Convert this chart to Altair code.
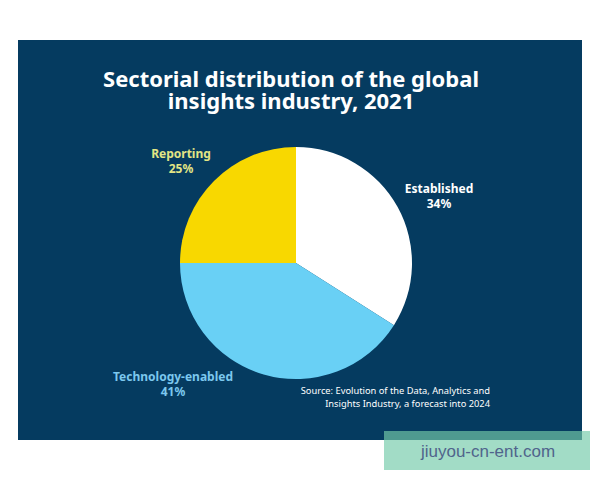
import altair as alt
import pandas as pd

# ---- data ----
categories = ["Established", "Technology-enabled", "Reporting"]
shares = [34, 41, 25]
slice_colors = ["#ffffff", "#69d0f5", "#f8d800"]
label_colors = ["#ffffff", "#7cc8ee", "#e2e585"]
title_lines = ["Sectorial distribution of the global", "insights industry, 2021"]
source_lines = ["Source: Evolution of the Data, Analytics and",
                "Insights Industry, a forecast into 2024"]
watermark = "jiuyou-cn-ent.com"

NAVY = "#053b60"
FONT = "Noto Sans"

df = pd.DataFrame({
    "category": categories,
    "share": shares,
    "idx": list(range(len(categories))),
    "label": [f"{c}\n{s}%" for c, s in zip(categories, shares)],
})

one = alt.Data(values=[{"a": 1}])

bg = alt.Chart(one).mark_rect(color=NAVY).encode(
    x=alt.value(10), x2=alt.value(574), y=alt.value(32), y2=alt.value(432)
)

pie = alt.Chart(df).mark_arc(outerRadius=116, stroke=None).encode(
    theta=alt.Theta("share:Q", stack=True),
    order=alt.Order("idx:O"),
    color=alt.Color("category:N", scale=alt.Scale(domain=categories, range=slice_colors), legend=None),
    x=alt.value(288), y=alt.value(255),
)

title = alt.Chart(one).mark_text(
    text=title_lines, font=FONT, fontWeight="bold", fontSize=22, color="white",
    align="center", baseline="alphabetic", lineHeight=22,
).encode(x=alt.value(283), y=alt.value(79))

label_pos = {
    "Established": (431, 185),
    "Technology-enabled": (165, 373),
    "Reporting": (173, 150),
}
label_layers = []
for cat, col in zip(categories, label_colors):
    px, py = label_pos[cat]
    label_layers.append(
        alt.Chart(df).transform_filter(alt.datum.category == cat).mark_text(
            font=FONT, fontWeight="bold", fontSize=12, color=col,
            align="center", baseline="alphabetic", lineBreak="\n", lineHeight=14.5,
        ).encode(text="label:N", x=alt.value(px), y=alt.value(py))
    )

source = alt.Chart(one).mark_text(
    text=source_lines, font=FONT, fontSize=9.3, color="white",
    align="right", baseline="alphabetic", lineHeight=12.5,
).encode(x=alt.value(482), y=alt.value(386))

wm_box = alt.Chart(one).mark_rect(color="#a2dcc6").encode(
    x=alt.value(376), x2=alt.value(582), y=alt.value(423), y2=alt.value(462)
)
wm_strip = alt.Chart(one).mark_rect(color="#4f9a90").encode(
    x=alt.value(376), x2=alt.value(574), y=alt.value(423), y2=alt.value(432)
)
wm_text = alt.Chart(one).mark_text(
    text=watermark, font="Liberation Sans", fontSize=17, color="#50648c",
    align="center", baseline="alphabetic",
).encode(x=alt.value(480), y=alt.value(449))

chart = alt.layer(bg, pie, title, *label_layers, source, wm_box, wm_strip, wm_text).properties(
    width=584, height=464, autosize=alt.AutoSizeParams(type="none"), padding=0,
    background="white",
).configure_view(stroke=None)

chart.save("out.html", embed_options={"renderer": "svg", "actions": False})
